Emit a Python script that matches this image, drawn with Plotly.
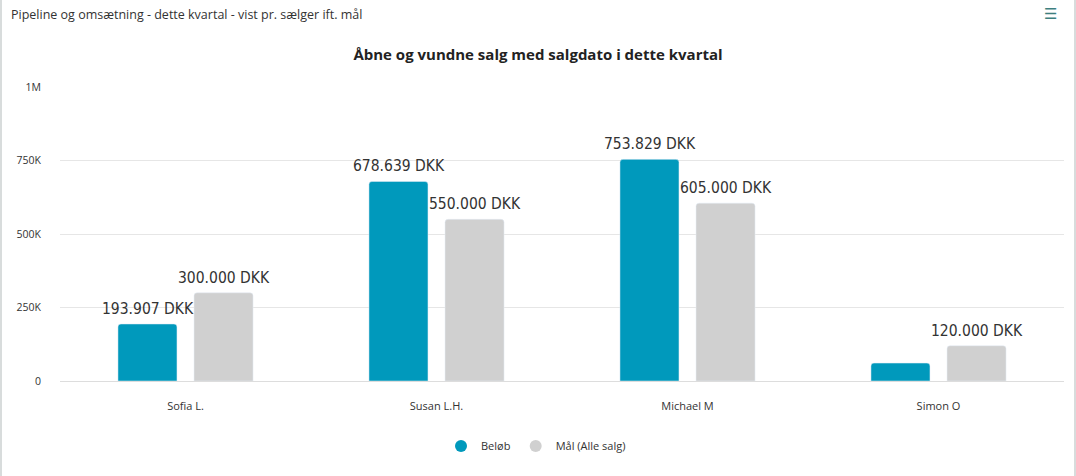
import plotly.graph_objects as go

sellers = ["Sofia L.", "Susan L.H.", "Michael M", "Simon O"]
belob = [193907, 678639, 753829, 61000]
maal = [300000, 550000, 605000, 120000]
belob_labels = ["193.907 DKK", "678.639 DKK", "753.829 DKK", ""]
maal_labels = ["300.000 DKK", "550.000 DKK", "605.000 DKK", "120.000 DKK"]
tick_vals = [0, 250000, 500000, 750000, 1000000]
tick_text = ["0", "250K", "500K", "750K", "1M"]

C_BELOB = "#0099BC"
C_MAAL = "#D0D0D0"
FONT = "Open Sans, Noto Sans, sans-serif"
LFONT = "DejaVu Sans Condensed, Lato, sans-serif"

W, H = 1076, 476
ML, MR, MT, MB = 60, 12, 87, 95
pw = W - ML - MR
ph = H - MT - MB
SLOT = 76  # px offset between bar centers within a group

fig = go.Figure()
fig.add_trace(go.Bar(
    x=sellers, y=belob, name="Beløb", marker_color=C_BELOB,
    showlegend=False, hoverinfo="x+y"))
fig.add_trace(go.Bar(
    x=sellers, y=maal, name="Mål (Alle salg)", marker_color=C_MAAL,
    showlegend=False, hoverinfo="x+y"))
for nm, col in [("Beløb", C_BELOB), ("Mål (Alle salg)", C_MAAL)]:
    fig.add_trace(go.Scatter(x=[None], y=[None], mode="markers", name=nm,
                             marker=dict(symbol="circle", size=13, color=col)))

for vals, labels, sh in [(belob, belob_labels, -SLOT / 2), (maal, maal_labels, SLOT / 2)]:
    for s, v, lab in zip(sellers, vals, labels):
        if lab:
            fig.add_annotation(x=s, y=v, text=lab, showarrow=False,
                               xshift=sh, yshift=15, yanchor="middle",
                               font=dict(size=15.5, color="#333333", family=LFONT))

def px_x(p):
    return (p - ML) / pw

def px_y(p):
    return (H - MB - p) / ph

fig.update_layout(
    width=W, height=H,
    margin=dict(l=ML, r=MR, t=MT, b=MB),
    paper_bgcolor="white", plot_bgcolor="white",
    font=dict(family=FONT, color="#333333"),
    barmode="group", bargap=0.394, bargroupgap=0.224,
    barcornerradius=3,
    title=dict(text="<b>Åbne og vundne salg med salgdato i dette kvartal</b>",
               x=0.5, xref="container", xanchor="center",
               y=1 - 55 / H, yref="container", yanchor="middle",
               font=dict(size=15, color="#222222", family=FONT)),
    xaxis=dict(showgrid=False, showline=False, zeroline=False, ticks="",
               tickfont=dict(size=11, color="#333333"), ticklabelstandoff=17),
    yaxis=dict(range=[0, 1000000], tickvals=tick_vals, ticktext=tick_text,
               showgrid=True, gridcolor="#E6E6E6", gridwidth=1,
               zeroline=True, zerolinecolor="#DDDDDD", zerolinewidth=1,
               tickfont=dict(size=10.5, color="#333333"), ticklabelstandoff=18),
    legend=dict(orientation="h", x=px_x(536), xanchor="center",
                y=px_y(446), yanchor="middle",
                font=dict(size=11, color="#333333"),
                itemsizing="constant", itemwidth=30, tracegroupgap=0),
    showlegend=True,
)

fig.add_annotation(text="Pipeline og omsætning - dette kvartal - vist pr. sælger ift. mål",
                   xref="paper", yref="paper", x=px_x(9), y=px_y(14),
                   xanchor="left", yanchor="middle", showarrow=False,
                   font=dict(size=12.5, color="#333333", family=FONT))
fig.add_annotation(text="☰", xref="paper", yref="paper", x=px_x(1050), y=px_y(14),
                   xanchor="center", yanchor="middle", showarrow=False,
                   font=dict(size=15, color="#3E7F7F", family="DejaVu Sans"))
for xp in (1, 1075):
    fig.add_shape(type="line", xref="paper", yref="paper",
                  x0=px_x(xp), x1=px_x(xp), y0=px_y(0), y1=px_y(H),
                  line=dict(color="#D8DCDC", width=2))

fig.write_html("out.html", config={"displayModeBar": False},
               post_script="document.body.style.margin='0';document.body.style.overflow='hidden';")
